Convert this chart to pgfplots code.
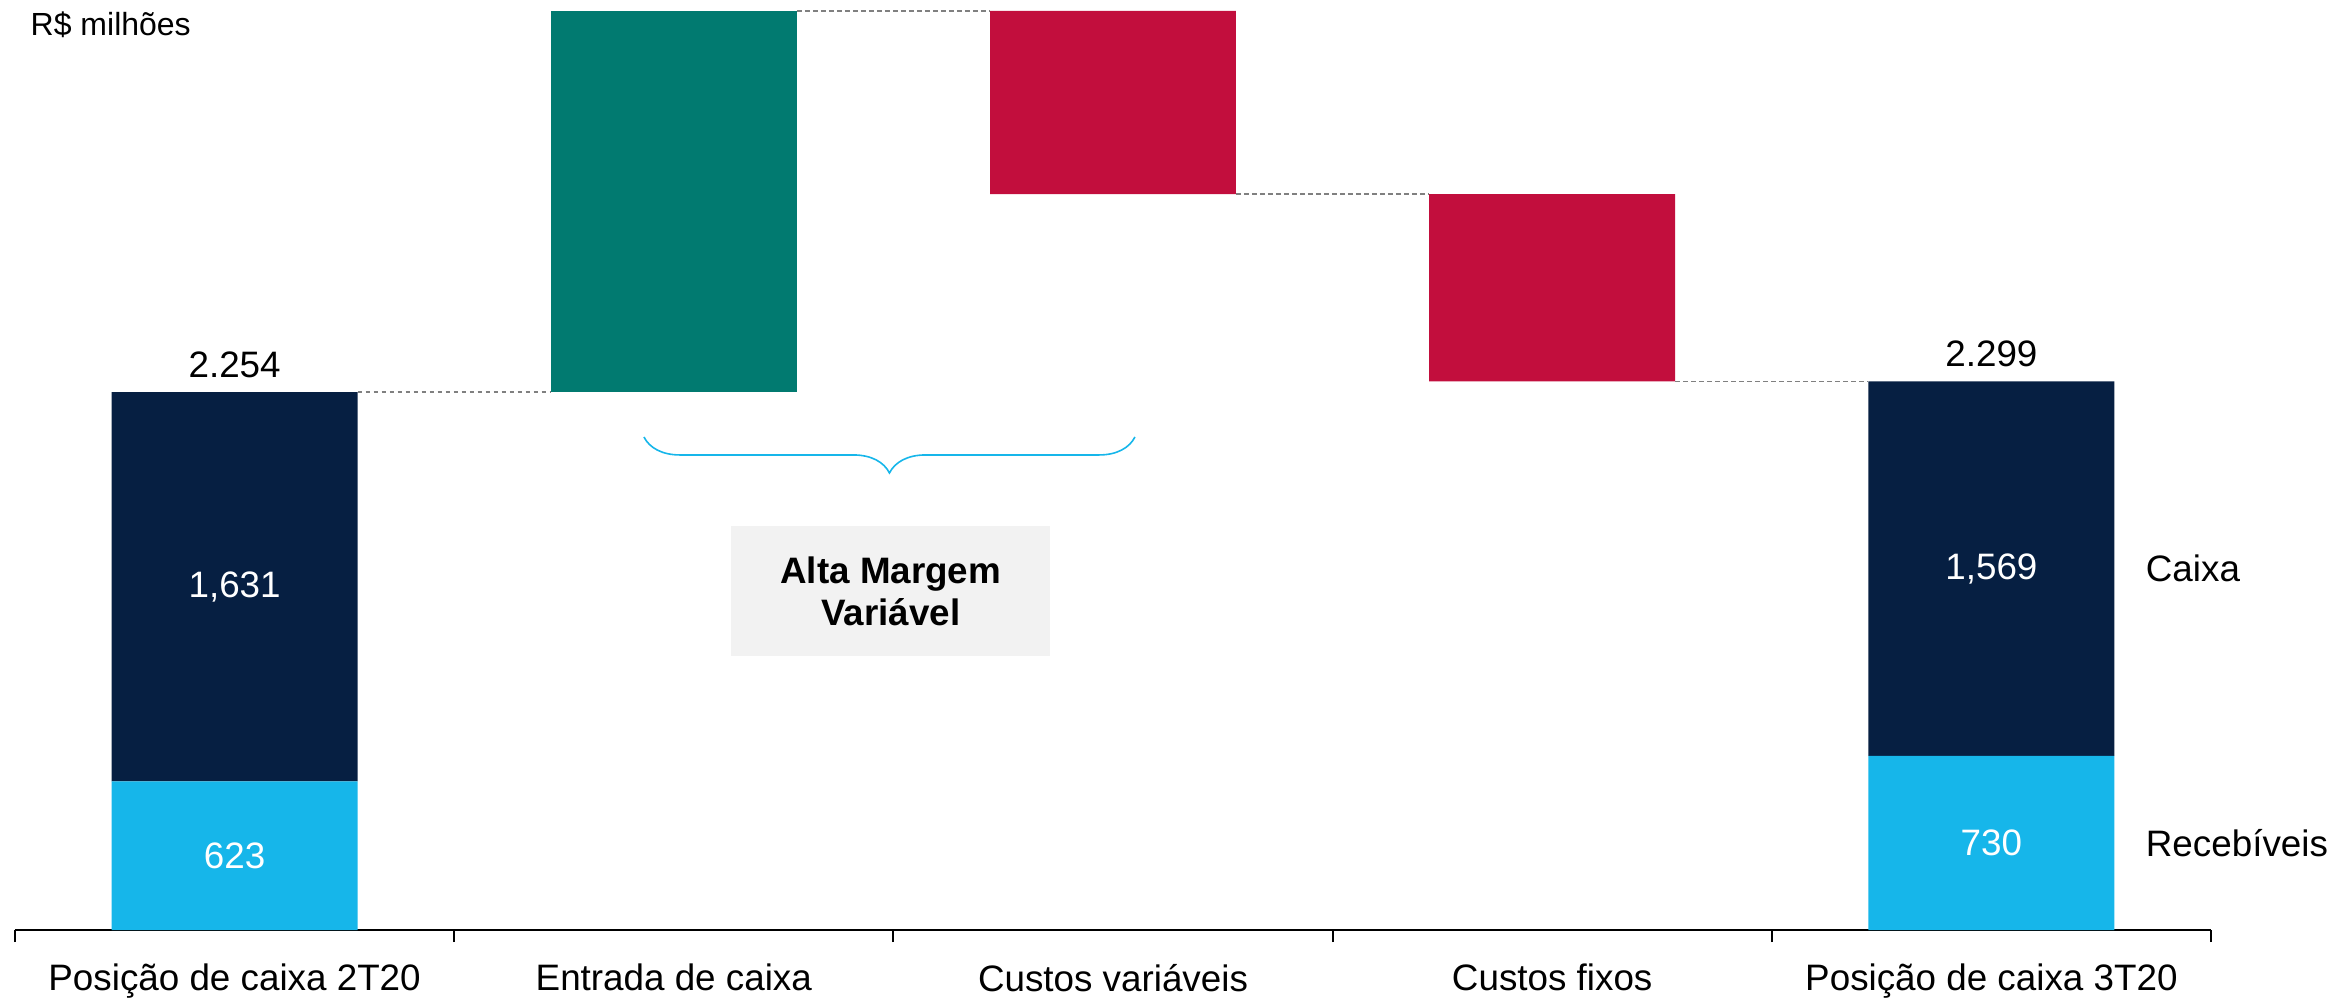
\documentclass[border=0pt]{standalone}
\usepackage{fontspec}
\setmainfont{Liberation Sans}
\usepackage{pgfplots}
\pgfplotsset{compat=1.18}
\usetikzlibrary{decorations.pathreplacing}
\definecolor{navy}{RGB}{6,31,66}
\definecolor{lblue}{RGB}{22,182,234}
\definecolor{teal2}{RGB}{1,122,112}
\definecolor{crimson}{RGB}{194,14,61}
\definecolor{boxgray}{RGB}{242,242,242}
\definecolor{dashgray}{RGB}{128,128,128}
\begin{document}
\begin{tikzpicture}[font=\fontsize{9.2}{11}\selectfont]
\useasboundingbox (0,0) rectangle (584pt,250pt);
\pgfplotsset{wf/.style={at={(3.75pt,17.5pt)}, anchor=south west,
  scale only axis, width=549pt, height=232.5pt,
  xmin=-0.5, xmax=4.5, ymin=0, ymax=3897, clip=false}}
\begin{axis}[wf, ybar stacked, bar width=0.56,
  axis x line=bottom, axis y line=none,
  x axis line style={-, line width=0.5pt, black},
  xtick={0,1,2,3,4},
  xticklabels={Posição de caixa 2T20, Entrada de caixa, Custos variáveis, Custos fixos, Posição de caixa 3T20},
  major tick length=0pt,
  minor xtick={-0.5,0.5,1.5,2.5,3.5,4.5},
  minor tick length=3pt, tick align=outside,
  minor tick style={black, line width=0.5pt},
  xticklabel style={yshift=-5pt}]
\addplot[draw=none, fill=none] coordinates {(0,0) (1,2254) (2,3084) (3,2299) (4,0)};
\addplot[draw=none, fill=lblue] coordinates {(0,623) (1,0) (2,0) (3,0) (4,730)};
\addplot[draw=none, fill=navy] coordinates {(0,1631) (1,0) (2,0) (3,0) (4,1569)};
\addplot[draw=none, fill=teal2] coordinates {(0,0) (1,1597) (2,0) (3,0) (4,0)};
\addplot[draw=none, fill=crimson] coordinates {(0,0) (1,0) (2,767) (3,785) (4,0)};
\end{axis}
\begin{axis}[wf, hide axis]
\addplot[dashgray, line width=0.35pt, dash pattern=on 1.2pt off 0.8pt] coordinates {(0.28,2254) (0.72,2254)};
\addplot[dashgray, line width=0.35pt, dash pattern=on 1.2pt off 0.8pt] coordinates {(1.28,3851) (1.72,3851)};
\addplot[dashgray, line width=0.35pt, dash pattern=on 1.2pt off 0.8pt] coordinates {(2.28,3084) (2.72,3084)};
\addplot[dashgray, line width=0.35pt, dash pattern=on 1.2pt off 0.8pt] coordinates {(3.28,2299) (3.72,2299)};
\node[white] at (axis cs:0,1438) {1,631};
\node[white] at (axis cs:0,311) {623};
\node[white] at (axis cs:4,1514) {1,569};
\node[white] at (axis cs:4,365) {730};
\node[anchor=base, inner sep=0, yshift=3.6pt] at (axis cs:0,2254) {2.254};
\node[anchor=base, inner sep=0, yshift=3.6pt] at (axis cs:4,2299) {2.299};
\node[anchor=west, inner sep=0] at (axis cs:4.35,1514) {Caixa};
\node[anchor=west, inner sep=0] at (axis cs:4.35,365) {Recebíveis};
\node[anchor=west, inner sep=0, font=\fontsize{8}{9}\selectfont] at (axis cs:-0.466,3792) {R\$ milhões};
\draw[lblue, line width=0.4pt, decorate, decoration={brace, mirror, amplitude=9pt}] (axis cs:0.932,2066) -- (axis cs:2.05,2066);
\node[fill=boxgray, minimum width=79.75pt, minimum height=32.4pt, inner sep=0, align=center, font=\fontsize{9.2}{10.4}\selectfont\bfseries] at (axis cs:1.494,1420) {Alta Margem\\Variável};
\end{axis}
\end{tikzpicture}
\end{document}
